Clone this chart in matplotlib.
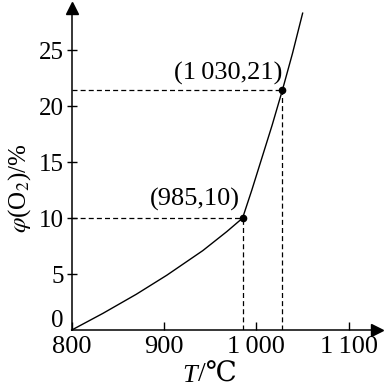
import matplotlib
matplotlib.use("Agg")
import matplotlib.pyplot as plt

# curve
temp_low = [800, 834, 870, 903, 942, 968, 985]
phi_low = [0, 1.5, 3.2, 4.9, 7.1, 8.8, 10]
temp_high = [985, 995, 1006, 1017, 1028, 1039, 1050]
phi_high = [10, 12.5, 15.4, 18.3, 21.4, 24.7, 28.3]

# marked points
point_t = [985, 1028]
point_phi = [10, 21.4]
point_labels = ["(985,10)", "(1\u2009030,21)"]

x_ticks = [800, 900, 1000, 1100]
x_tick_labels = ["800", "900", "1\u2009000", "1\u2009100"]
y_ticks = [5, 10, 15, 20, 25]

plt.rcParams["font.family"] = ["Liberation Serif", "DejaVu Serif"]
plt.rcParams["mathtext.fontset"] = "stix"

fig = plt.figure(figsize=(3.87, 3.87), dpi=100)
ax = fig.add_axes([0.185, 0.147, 0.789, 0.832])
ax.set_xlim(800, 1130.4)
ax.set_ylim(0, 28.75)

ax.plot(temp_low + temp_high[1:], phi_low + phi_high[1:], color="black", lw=1.0,
        clip_on=False)

dash = (0, (4, 2.5))
for t, p in zip(point_t, point_phi):
    ax.plot([800, t], [p, p], color="black", lw=0.9, ls=dash)
    ax.plot([t, t], [0, p], color="black", lw=0.9, ls=dash)
    ax.plot(t, p, "o", color="black", ms=4.5, zorder=5)

ax.text(982, 11.1, point_labels[0], ha="right", va="baseline", fontsize=19)
ax.text(1028.5, 22.4, point_labels[1], ha="right", va="baseline", fontsize=19)

for s in ["top", "right"]:
    ax.spines[s].set_visible(False)
for s in ["left", "bottom"]:
    ax.spines[s].set_linewidth(1.1)

# axis arrows
ax.plot(1, 0, ">", color="black", ms=8, transform=ax.transAxes, clip_on=False)
ax.plot(0, 1, "^", color="black", ms=8, transform=ax.transAxes, clip_on=False)

ax.set_xticks(x_ticks)
ax.set_xticklabels(x_tick_labels)
ax.set_yticks(y_ticks)
ax.tick_params(axis="x", direction="in", length=6, width=1, pad=4, labelsize=19)
ax.tick_params(axis="y", direction="inout", length=7, width=1, pad=2, labelsize=18)
for lab in ax.get_xticklabels()[:1]:
    lab.set_x(805)

ax.text(-0.025, 0.028, "0", transform=ax.transAxes, ha="right", va="center", fontsize=18)

# x label: italic T then /℃
fig.text(182 / 387, 5 / 387, "T", style="italic", fontsize=19, ha="left", va="baseline")
fig.text(198 / 387, 5 / 387, "/\u2103", fontsize=20, ha="left", va="baseline")

ax.set_ylabel("$\\varphi$(O$_2$)/%", fontsize=18)
ax.yaxis.set_label_coords(-0.125, 0.44)

fig.savefig("out.png", dpi=100)
